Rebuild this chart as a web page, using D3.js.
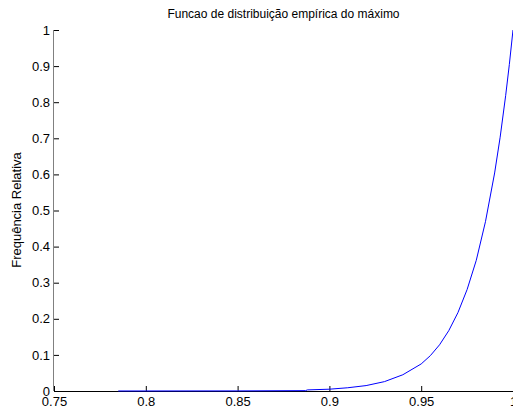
<html>
<head>
  <meta charset="utf-8">
  <title>Funcao de distribuição empírica do máximo</title>
  <script src="https://d3js.org/d3.v7.min.js"></script>
  <style>
    body { margin: 0; background: #fff; }
    text { font-family: "Liberation Sans", Arial, sans-serif; fill: #000; }
  </style>
</head>
<body>
  <svg width="513" height="411"></svg>
  <script>
    const xValues = [0.785, 0.80, 0.85, 0.887, 0.888, 0.90, 0.91, 0.92, 0.93, 0.94, 0.95,
      0.955, 0.96, 0.965, 0.97, 0.975, 0.98, 0.985, 0.99, 0.993, 0.996, 0.998, 1.0];
    const yValues = [0.0001, 0.0001, 0.0003, 0.001, 0.003, 0.005, 0.009, 0.015, 0.026, 0.045, 0.075,
      0.098, 0.128, 0.167, 0.217, 0.281, 0.362, 0.469, 0.604, 0.703, 0.818, 0.904, 1.0];
    const xTicks = [0.75, 0.8, 0.85, 0.9, 0.95, 1];
    const yTicks = [0, 0.1, 0.2, 0.3, 0.4, 0.5, 0.6, 0.7, 0.8, 0.9, 1];

    const svg = d3.select("svg");
    const plotLeft = 54, plotRight = 513, plotTop = 30, plotBottom = 391;

    const x = d3.scaleLinear().domain([0.75, 1]).range([plotLeft, plotRight]);
    const y = d3.scaleLinear().domain([0, 1]).range([plotBottom, plotTop]);

    // x axis
    const xAxis = svg.append("g")
      .attr("transform", `translate(0,${plotBottom})`)
      .call(d3.axisBottom(x).tickValues(xTicks).tickSize(-5).tickPadding(6).tickFormat(d3.format("")));
    xAxis.select(".domain").attr("stroke", "#000").attr("d", `M${plotLeft},0.5H${plotRight}`);
    xAxis.selectAll("text").attr("font-size", 13).attr("dy", "0.71em");

    // y axis
    const yAxis = svg.append("g")
      .attr("transform", `translate(${plotLeft},0)`)
      .call(d3.axisLeft(y).tickValues(yTicks).tickSize(-5).tickPadding(4).tickFormat(d3.format("")));
    yAxis.select(".domain").attr("stroke", "#808080").attr("d", `M-0.5,${plotTop}V${plotBottom}`);
    yAxis.selectAll("text").attr("font-size", 13);

    // curve
    const line = d3.line().x((d, i) => x(xValues[i])).y(d => y(d));
    svg.append("path")
      .datum(yValues)
      .attr("fill", "none")
      .attr("stroke", "#0000ff")
      .attr("stroke-width", 1)
      .attr("d", line);

    svg.append("text")
      .attr("x", (plotLeft + plotRight) / 2)
      .attr("y", 18)
      .attr("text-anchor", "middle")
      .attr("font-size", 12)
      .text("Funcao de distribuição empírica do máximo");

    svg.append("text")
      .attr("transform", `translate(21,210) rotate(-90)`)
      .attr("text-anchor", "middle")
      .attr("font-size", 13)
      .text("Frequência Relativa");
  </script>
</body>
</html>
